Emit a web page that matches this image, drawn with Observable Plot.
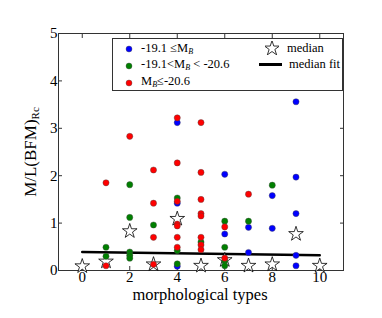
<!DOCTYPE html>
<html><head><meta charset="utf-8">
<script src="https://cdn.jsdelivr.net/npm/d3@7"></script>
<script src="https://cdn.jsdelivr.net/npm/@observablehq/plot@0.6"></script>
<style>
body{margin:0;background:#fff;}
#wrap{position:relative;width:382px;height:318px;font-family:'Liberation Serif','Times New Roman',Times,'DejaVu Serif',serif;}
#wrap div{font-family:'Liberation Serif','Times New Roman',Times,'DejaVu Serif',serif;}
#ylab{position:absolute;left:33px;top:152px;transform:translate(-50%,-50%) rotate(-90deg);font-size:17px;line-height:17px;white-space:nowrap;color:#000;}
#ylab sub{font-size:11px;vertical-align:-3px;}
#xlab{position:absolute;left:200px;top:295px;transform:translate(-50%,-50%);font-size:16.5px;line-height:14px;white-space:nowrap;}
#legend{position:absolute;left:112px;top:38px;width:231px;height:53px;border:1px solid #333;background:#fff;box-sizing:border-box;font-size:12.5px;}
.li{position:absolute;white-space:nowrap;line-height:12px;}
.li sub{font-size:8px;font-style:italic;vertical-align:-2px;}
</style></head>
<body><div id="wrap"></div>
<script>
// data: morphological type, M/L value
const blueT = [4,4,6,6,7,7,8,8,9,9,9,9,4,9];
const blueV = [3.12,1.42,2.03,0.77,0.91,0.38,1.58,0.89,3.56,1.97,1.20,0.32,0.09,0.10];
const greenT = [1,1,2,2,2,2,2,3,4,4,4,5,6,6,6,6,7,8];
const greenV = [0.49,0.30,1.81,1.12,0.39,0.32,0.26,0.96,1.53,0.42,0.14,0.60,1.04,0.49,0.20,0.10,1.04,1.80];
const redT = [1,1,2,3,3,3,3,4,4,4,4,4,4,4,5,5,5,5,5,5,5,5,6,6,7];
const redV = [1.85,0.10,2.83,2.12,1.42,0.70,0.13,3.22,2.27,1.46,0.98,0.94,0.70,0.49,3.12,2.07,1.50,1.20,1.15,0.70,0.54,0.44,0.92,0.26,1.61];
const medT = [0,1,2,3,4,5,6,7,8,9,10];
const medV = [0.09,0.19,0.83,0.13,1.09,0.10,0.22,0.10,0.13,0.77,0.10];
const fitT = [0,10];
const fitV = [0.39,0.32];
const xTicks = [0,2,4,6,8,10];
const yTicks = [0,1,2,3,4,5];

const zip = (a,b) => a.map((t,i)=>({t, v:b[i]}));
const blue = zip(blueT, blueV);
const green = zip(greenT, greenV);
const red = zip(redT, redV);
const med = zip(medT, medV);
const fit = zip(fitT, fitV);

const FONT = "'Liberation Serif','Times New Roman',Times,'DejaVu Serif',serif";
const dotOpts = {x:"t", y:"v", r:3.1, stroke:"#444", strokeWidth:0.4};
const plot = Plot.plot({
  width:382, height:318,
  marginLeft:58, marginRight:39, marginTop:33, marginBottom:48,
  style:{fontFamily:FONT, fontSize:"15px", background:"white", overflow:"visible"},
  x:{domain:[-1,11]},
  y:{domain:[0,5]},
  marks:[
    Plot.axisX({ticks:xTicks, tickSize:-4, tickPadding:5, tickFormat:d=>String(d), label:null, stroke:"#333", fontSize:15, fill:"#000", fontFamily:FONT}),
    Plot.axisX({anchor:"top", ticks:xTicks, tickSize:-4, tickFormat:()=>"", label:null, stroke:"#333"}),
    Plot.axisY({ticks:yTicks, tickSize:-4, tickPadding:5, tickFormat:d=>String(d), label:null, stroke:"#333", fontSize:15, fill:"#000", fontFamily:FONT}),
    Plot.axisY({anchor:"right", ticks:yTicks, tickSize:-4, tickFormat:()=>"", label:null, stroke:"#333"}),
    Plot.frame({stroke:"#333", strokeWidth:1}),
    Plot.line(fit, {x:"t", y:"v", stroke:"black", strokeWidth:2.5}),
    Plot.dot(med, {x:"t", y:"v", symbol:"star", r:4.6, fill:"white", stroke:"black", strokeWidth:0.8}),
    Plot.dot(blue, {...dotOpts, fill:"#0000ff"}),
    Plot.dot(green, {...dotOpts, fill:"#008000"}),
    Plot.dot(red, {...dotOpts, fill:"#ff0000"})
  ]
});
const wrap = document.getElementById("wrap");
wrap.appendChild(plot);

const yl = document.createElement("div");
yl.id = "ylab";
yl.innerHTML = "M/L(BFM)<sub>Rc</sub>";
wrap.appendChild(yl);
const xl = document.createElement("div");
xl.id = "xlab";
xl.textContent = "morphological types";
wrap.appendChild(xl);

const lg = document.createElement("div");
lg.id = "legend";
const dotSvg = c => `<svg width="8" height="8" style="vertical-align:middle"><circle cx="4" cy="4" r="3" fill="${c}" stroke="#444" stroke-width="0.4"/></svg>`;
const star = d3.symbol(d3.symbolStar, 70)();
lg.innerHTML = `
<div class="li" style="left:12px;top:3px">${dotSvg("#0000ff")}</div>
<div class="li" style="left:28px;top:3px">-19.1 ≤M<sub>B</sub></div>
<div class="li" style="left:12px;top:20px">${dotSvg("#008000")}</div>
<div class="li" style="left:28px;top:19px">-19.1&lt;M<sub>B</sub> &lt; -20.6</div>
<div class="li" style="left:12px;top:37px">${dotSvg("#ff0000")}</div>
<div class="li" style="left:28px;top:36px">M<sub>B</sub>≤-20.6</div>
<div class="li" style="left:152px;top:2px"><svg width="14" height="14"><path d="${star}" transform="translate(7,7.5)" fill="white" stroke="black" stroke-width="0.8"/></svg></div>
<div class="li" style="left:174px;top:3px">median</div>
<div class="li" style="left:146px;top:24px;width:23px;height:2.5px;background:black"></div>
<div class="li" style="left:176px;top:19px">median fit</div>`;
wrap.appendChild(lg);
</script></body></html>
